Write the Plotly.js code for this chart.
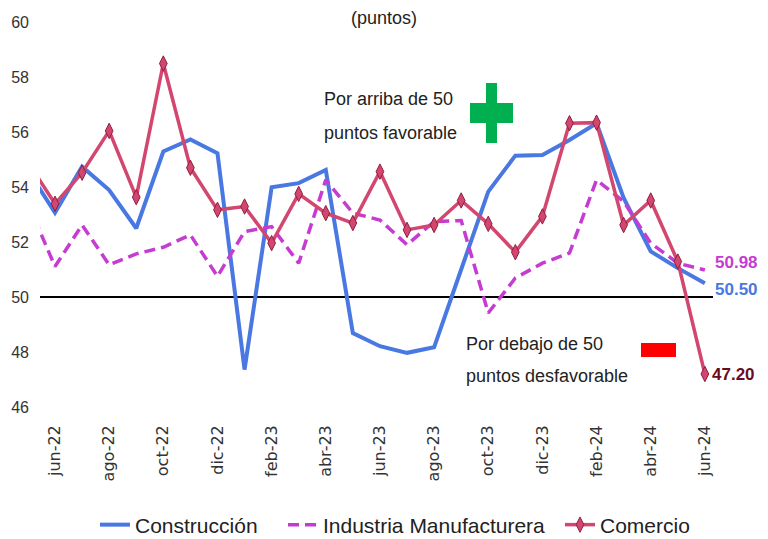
<!DOCTYPE html>
<html>
<head>
<meta charset="utf-8">
<script src="https://cdn.plot.ly/plotly-3.0.1.min.js"></script>
<style>html,body{margin:0;padding:0;background:#fff}#chart{width:768px;height:539px}</style>
</head>
<body>
<div id="chart"></div>
<script>
// Months (may-22 is only partly visible at the left edge)
const months = ["may-22","jun-22","jul-22","ago-22","sep-22","oct-22","nov-22","dic-22",
  "ene-23","feb-23","mar-23","abr-23","may-23","jun-23","jul-23","ago-23","sep-23","oct-23","nov-23","dic-23",
  "ene-24","feb-24","mar-24","abr-24","may-24","jun-24"];
const tickMonths = ["jun-22","ago-22","oct-22","dic-22","feb-23","abr-23","jun-23","ago-23","oct-23","dic-23","feb-24","abr-24","jun-24"];

const construccion = [54.6, 53.07, 54.74, 53.89, 52.50, 55.29, 55.73, 55.23,
  47.36, 53.99, 54.14, 54.62, 48.69, 48.21, 47.97, 48.17, 51.0, 53.83, 55.14, 55.16,
  55.71, 56.32, 53.6, 51.66, 51.05, 50.50];
const manufactura = [53.4, 51.11, 52.62, 51.17, 51.57, 51.81, 52.26, 50.75,
  52.38, 52.56, 51.23, 54.26, 53.05, 52.8, 51.9, 52.74, 52.78, 49.42, 50.69, 51.23,
  51.6, 54.26, 53.47, 51.96, 51.23, 50.98];
const comercio = [54.9, 53.39, 54.52, 56.04, 53.63, 58.49, 54.70, 53.17,
  53.29, 51.96, 53.75, 53.05, 52.69, 54.56, 52.44, 52.62, 53.51, 52.66, 51.63, 52.93,
  56.32, 56.34, 52.62, 53.51, 51.29, 47.20];

const seriesNames = ["Construcción", "Industria Manufacturera", "Comercio"];
const threshold = 50;

const C_BLUE = "#4A78E2", C_PURP = "#C63CD2", C_COM = "#D2466F", C_COM_DARK = "#8E1F3E", C_LBL = "#6A0C1C";
const FONT = "Liberation Sans, Arial, sans-serif";

const W = 768, H = 539;
const pw = 673, ph = 385, L = 40, T = 22;
const px = v => (v - L) / pw;
const py = v => (T + ph - v) / ph;

const traces = [
  {x: months, y: construccion, name: seriesNames[0], type: "scatter", mode: "lines",
   line: {color: C_BLUE, width: 4}, legend: "legend"},
  {x: months, y: manufactura, name: seriesNames[1], type: "scatter", mode: "lines",
   line: {color: C_PURP, width: 3.5, dash: "11px,6px"}, legend: "legend2"},
  {x: months, y: comercio, name: seriesNames[2], type: "scatter", mode: "lines+markers",
   line: {color: C_COM, width: 3.5},
   marker: {symbol: "diamond-tall", size: 11, color: C_COM, line: {color: C_COM_DARK, width: 1}},
   legend: "legend3"}
];

const last = months.length - 1;
const legBase = {orientation: "h", xref: "container", yref: "container", xanchor: "left",
  y: 1 - 525/H, yanchor: "middle",
  font: {family: FONT, size: 21, color: "#222"}, itemwidth: 30, bgcolor: "rgba(0,0,0,0)"};

const layout = {
  width: W, height: H,
  margin: {l: 40, r: 55, t: 22, b: 132},
  paper_bgcolor: "#fff", plot_bgcolor: "#fff",
  showlegend: true,
  title: {text: "(puntos)", x: 0.5, xref: "container", y: 1 - 18/H, yanchor: "middle",
          font: {family: FONT, size: 18, color: "#222"}},
  xaxis: {type: "category", range: [0.446, 25.3], tickmode: "array", tickvals: tickMonths, ticktext: tickMonths,
          tickangle: -90, showgrid: false, showline: false, zeroline: false, ticks: "", automargin: false,
          tickfont: {family: "DejaVu Sans", size: 16, color: "#333"}, ticklabelstandoff: 14},
  yaxis: {range: [46, 60], dtick: 2, showgrid: false, showline: false, zeroline: false, ticks: "", automargin: false,
          tickfont: {family: FONT, size: 16, color: "#333"}, ticklabelstandoff: 10},
  legend: Object.assign({}, legBase, {x: 95 / W}),
  legend2: Object.assign({}, legBase, {x: 283 / W}),
  legend3: Object.assign({}, legBase, {x: 560 / W}),
  shapes: [
    {type: "line", xref: "paper", x0: 0, x1: 1, yref: "y", y0: threshold, y1: threshold,
     line: {color: "#000", width: 2}, layer: "below"},
    {type: "rect", xref: "paper", yref: "paper", x0: px(486), x1: px(497), y0: py(143), y1: py(83),
     fillcolor: "#00B050", line: {width: 0}},
    {type: "rect", xref: "paper", yref: "paper", x0: px(470), x1: px(513), y0: py(123), y1: py(103),
     fillcolor: "#00B050", line: {width: 0}},
    {type: "rect", xref: "paper", yref: "paper", x0: px(641), x1: px(676), y0: py(357), y1: py(343),
     fillcolor: "#FF0000", line: {width: 0}}
  ],
  annotations: [
    {xref: "paper", yref: "paper", x: px(322), y: py(99), xanchor: "left", yanchor: "middle",
     text: "Por arriba de 50", showarrow: false, font: {family: FONT, size: 18, color: "#222"}},
    {xref: "paper", yref: "paper", x: px(322), y: py(133), xanchor: "left", yanchor: "middle",
     text: "puntos favorable", showarrow: false, font: {family: FONT, size: 18, color: "#222"}},
    {xref: "paper", yref: "paper", x: px(464), y: py(344), xanchor: "left", yanchor: "middle",
     text: "Por debajo de 50", showarrow: false, font: {family: FONT, size: 18, color: "#222"}},
    {xref: "paper", yref: "paper", x: px(464), y: py(376), xanchor: "left", yanchor: "middle",
     text: "puntos desfavorable", showarrow: false, font: {family: FONT, size: 18, color: "#222"}},
    {x: months[last], y: manufactura[last], xref: "x", yref: "y", xanchor: "left", yanchor: "middle",
     xshift: 8, yshift: 8, text: "<b>" + manufactura[last].toFixed(2) + "</b>", showarrow: false,
     font: {family: FONT, size: 17, color: C_PURP}},
    {x: months[last], y: construccion[last], xref: "x", yref: "y", xanchor: "left", yanchor: "middle",
     xshift: 8, yshift: -6, text: "<b>" + construccion[last].toFixed(2) + "</b>", showarrow: false,
     font: {family: FONT, size: 17, color: C_BLUE}},
    {x: months[last], y: comercio[last], xref: "x", yref: "y", xanchor: "left", yanchor: "middle",
     xshift: 5, yshift: 0, text: "<b>" + comercio[last].toFixed(2) + "</b>", showarrow: false,
     font: {family: FONT, size: 17, color: C_LBL}}
  ]
};

Plotly.newPlot("chart", traces, layout, {displayModeBar: false, staticPlot: true});
</script>
</body>
</html>
